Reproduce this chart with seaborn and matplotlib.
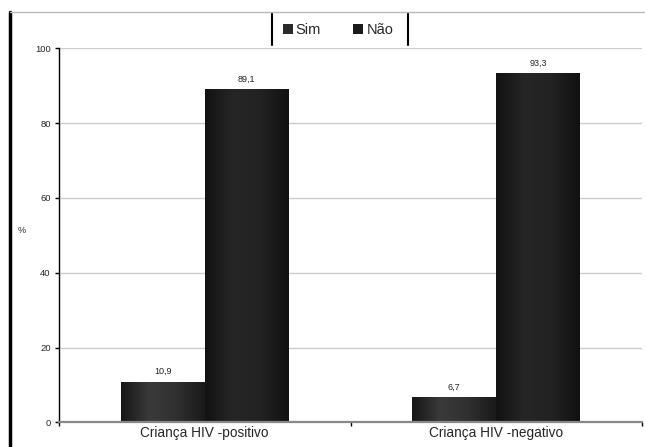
import numpy as np
import pandas as pd
import matplotlib
matplotlib.use("Agg")
import matplotlib.pyplot as plt
import seaborn as sns
from matplotlib.lines import Line2D
from matplotlib.colors import LinearSegmentedColormap

categories = ["Criança HIV -positivo", "Criança HIV -negativo"]
series_names = ["Sim", "Não"]
sim_values = [10.9, 6.7]
nao_values = [89.1, 93.3]
y_ticks = [0, 20, 40, 60, 80, 100]

df = pd.DataFrame({
    "cat": categories * 2,
    "serie": [series_names[0]] * 2 + [series_names[1]] * 2,
    "val": sim_values + nao_values,
})

sns.set_theme(style="white")
plt.rcParams['font.family'] = ['Liberation Sans', 'DejaVu Sans']

fig = plt.figure(figsize=(6.45, 4.47), dpi=100)
ax = fig.add_axes([59/645, 1 - 422.3/447, (642-59)/645, (422.3-48.3)/447])

colors = {"Sim": "#2b2b2b", "Não": "#1b1b1b"}
sns.barplot(data=df, x="cat", y="val", hue="serie", order=categories,
            hue_order=series_names, palette=colors, width=0.576,
            saturation=1, ax=ax, legend=False, linewidth=0)

# gradient fill of bars (vertical stripes)
grad = {
    "Sim": LinearSegmentedColormap.from_list("s", ["#161616", "#3a3a3a", "#303030", "#1a1a1a"]),
    "Não": LinearSegmentedColormap.from_list("n", ["#121212", "#262626", "#222222", "#111111"]),
}
patches = [p for p in ax.patches if p.get_height() > 0]
for i, p in enumerate(patches):
    name = series_names[i // 2]
    x0, y0 = p.get_x(), p.get_y()
    w, h = p.get_width(), p.get_height()
    img = ax.imshow(np.linspace(0, 1, 64).reshape(1, -1), cmap=grad[name],
                    extent=[x0, x0 + w, y0, y0 + h], aspect="auto", zorder=p.get_zorder() + 0.1)
    img.set_clip_path(p)
    p.set_facecolor("none")

ax.set_xlim(-0.5, 1.5)
ax.set_ylim(0, 100)
ax.set_aspect("auto")

for cont, vals in zip(ax.containers, [sim_values, nao_values]):
    ax.bar_label(cont, labels=[f"{v:.1f}".replace(".", ",") for v in vals],
                 padding=4, fontsize=6.5, color="#222222")

ax.set_yticks(y_ticks)
ax.set_yticklabels([str(t) for t in y_ticks], fontsize=6.8)
ax.yaxis.grid(True, color="#cccccc", linewidth=1)
ax.set_axisbelow(True)
ax.tick_params(axis="y", length=3, width=1, color="black", direction="out", pad=3, left=True)
ax.tick_params(axis="x", length=0, labelsize=9.8, pad=3)
ax.set_xticks([0, 1])
ax.set_xticklabels(categories)
ax.set_xticks([-0.5, 0.5, 1.5], minor=True)
ax.tick_params(axis="x", which="minor", length=3, width=1, color="black", direction="out", bottom=True)

ax.set_xlabel("")
ax.set_ylabel("%", fontsize=6.5, rotation=0, labelpad=0)
ax.yaxis.set_label_coords(-59/583 + 22/583, 0.5)

for s in ["top", "right"]:
    ax.spines[s].set_visible(False)
ax.spines["left"].set_color("black")
ax.spines["left"].set_linewidth(1)
ax.spines["bottom"].set_color("#888888")
ax.spines["bottom"].set_linewidth(1.6)

# legend
handles = [plt.Rectangle((0, 0), 1, 1, facecolor=colors[n], edgecolor="none") for n in series_names]
fig.legend(handles, series_names, loc="center", bbox_to_anchor=(338/645, 1 - 30/447),
           ncol=2, frameon=False, fontsize=10.5, handlelength=0.7, handleheight=0.7,
           handletextpad=0.2, columnspacing=2.2)
fig.add_artist(Line2D([272/645, 272/645], [1 - 13/447, 1 - 45/447], color="black", lw=1.5))
fig.add_artist(Line2D([408/645, 408/645], [1 - 13/447, 1 - 45/447], color="black", lw=1.5))

# outer frame
fig.add_artist(Line2D([10/645, 10/645], [0, 1 - 12/447], color="black", lw=2.5))
fig.add_artist(Line2D([10/645, 1], [1 - 12/447, 1 - 12/447], color="#bbbbbb", lw=1))

fig.savefig("out.png", dpi=100)
